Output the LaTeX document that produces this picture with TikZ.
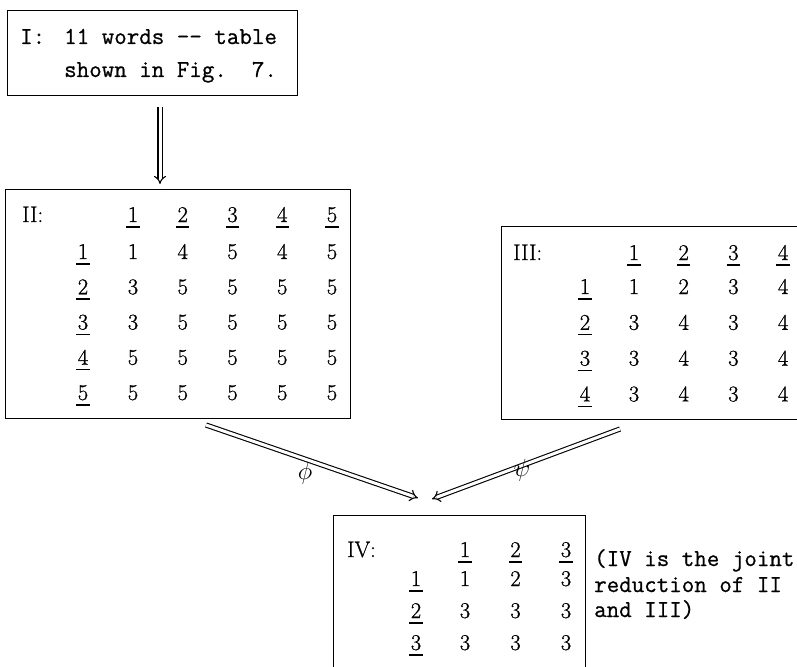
\documentclass[tikz,border=0pt]{standalone}
\usepackage{fontspec}
\usetikzlibrary{arrows.meta}
\newfontfamily\twfont[FakeBold=0.8]{Latin Modern Mono}
\newfontfamily\numfont[FakeBold=0.9]{Latin Modern Roman}
\newcommand\ulnum[1]{\setbox0\hbox{#1}\rlap{\kern-1.5pt\rule[-5.5pt]{\dimexpr\wd0+3pt\relax}{1.3pt}}#1}
\tikzset{
  box/.style={draw, line width=1.2pt, rectangle, inner sep=0pt},
  num/.style={anchor=base, inner sep=0pt, font=\fontsize{22.5}{26}\numfont},
  tw/.style={anchor=base west, inner sep=0pt, font=\fontsize{24.3}{28}\twfont\frenchspacing},
  dbl/.style={double, double distance=3pt, line width=1.1pt, -{Implies}},
  greek/.style={inner sep=0pt, font=\fontsize{23}{27}\selectfont},
}
\begin{document}
\begin{tikzpicture}[x=1pt, y=-1pt]
\useasboundingbox (0,0) rectangle (797,666);
% Box I
\node[box, minimum width=290pt, minimum height=85pt, anchor=north west] (boxI) at (7,10) {};
\node[tw] (Ilab) at (20,44) {I:};
\node[tw] (Il1) at (64,44) {11 words -{}- table};
\node[tw] (Il2) at (64,77) {shown in Fig.\ \ 7.};
% Box II
\node[box, minimum width=345pt, minimum height=229pt, anchor=north west] (boxII) at (5,189) {};
\node[num, anchor=base west] (IIlab) at (22,222) {II:};
\foreach \c in {1,...,5}
  \node[num] (IIh\c) at ({133+(\c-1)*49.75},222) {\ulnum{\c}};
\foreach \r in {1,...,5}
  \node[num] (IIr\r) at (83,{259+(\r-1)*35.25}) {\ulnum{\r}};
\foreach \row [count=\r] in {{1,4,5,4,5},{3,5,5,5,5},{3,5,5,5,5},{5,5,5,5,5},{5,5,5,5,5}}
  \foreach \v [count=\c] in \row
    \node[num] (II-\r-\c) at ({133+(\c-1)*49.75},{259+(\r-1)*35.25}) {\v};
% Box III
\node[box, minimum width=310pt, minimum height=193pt, anchor=north west] (boxIII) at (501,226) {};
\node[num, anchor=base west] (IIIlab) at (513,260) {III:};
\foreach \c in {1,...,4}
  \node[num] (IIIh\c) at ({634+(\c-1)*49.7},260) {\ulnum{\c}};
\foreach \r in {1,...,4}
  \node[num] (IIIr\r) at (585,{294+(\r-1)*35.8}) {\ulnum{\r}};
\foreach \row [count=\r] in {{1,2,3,4},{3,4,3,4},{3,4,3,4},{3,4,3,4}}
  \foreach \v [count=\c] in \row
    \node[num] (III-\r-\c) at ({634+(\c-1)*49.7},{294+(\r-1)*35.8}) {\v};
% Box IV
\node[box, minimum width=252pt, minimum height=165pt, anchor=north west] (boxIV) at (333,515) {};
\node[num, anchor=base west] (IVlab) at (347,557) {IV:};
\foreach \c in {1,...,3}
  \node[num] (IVh\c) at ({465+(\c-1)*50.5},557) {\ulnum{\c}};
\foreach \r in {1,...,3}
  \node[num] (IVr\r) at (416,{586+(\r-1)*32}) {\ulnum{\r}};
\foreach \row [count=\r] in {{1,2,3},{3,3,3},{3,3,3}}
  \foreach \v [count=\c] in \row
    \node[num] (IV-\r-\c) at ({465+(\c-1)*50.5},{586+(\r-1)*32}) {\v};
% note
\node[tw] (n1) at (594,566) {(IV is the joint};
\node[tw] (n2) at (594,592) {reduction of II};
\node[tw] (n3) at (594,617) {and III)};
% arrows
\coordinate (a1s) at (160,107);
\coordinate (a1e) at (160,184);
\coordinate (a2s) at (206,425);
\coordinate (a2e) at (418,498);
\coordinate (a3s) at (620,429);
\coordinate (a3e) at (432,499);
\draw[dbl] (a1s) -- (a1e);
\draw[dbl] (a2s) -- (a2e);
\draw[dbl] (a3s) -- (a3e);
\node[greek] (phi) at (305,473) {$\phi$};
\node[greek] (psi) at (522,470) {$\psi$};
\end{tikzpicture}
\end{document}
